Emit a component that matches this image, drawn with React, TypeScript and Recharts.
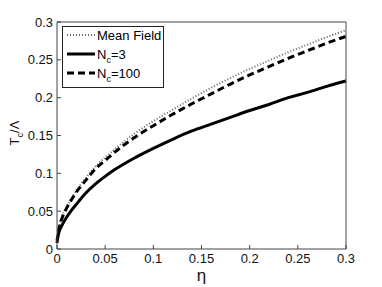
import { LineChart, Line, XAxis, YAxis } from 'recharts';

// eta values along the x axis
const eta = [0, 0.0025, 0.005, 0.01, 0.015, 0.02, 0.03, 0.04, 0.05, 0.06, 0.08, 0.1, 0.12, 0.14, 0.16, 0.18, 0.2, 0.22, 0.24, 0.26, 0.28, 0.3];

// T_c / Lambda
const meanField = [0.008, 0.031, 0.042, 0.056, 0.067, 0.077, 0.094, 0.109, 0.121, 0.132, 0.152, 0.169, 0.184, 0.199, 0.213, 0.226, 0.238, 0.249, 0.26, 0.27, 0.28, 0.289];
const nc3 = [0.012, 0.024, 0.031, 0.042, 0.051, 0.059, 0.074, 0.086, 0.096, 0.105, 0.12, 0.133, 0.145, 0.156, 0.165, 0.174, 0.183, 0.191, 0.2, 0.207, 0.215, 0.222];
const nc100 = [0.008, 0.03, 0.04, 0.054, 0.065, 0.075, 0.091, 0.106, 0.117, 0.128, 0.147, 0.163, 0.178, 0.192, 0.205, 0.218, 0.23, 0.241, 0.252, 0.262, 0.272, 0.281];

const xTicks = [0, 0.05, 0.1, 0.15, 0.2, 0.25, 0.3];
const yTicks = [0, 0.05, 0.1, 0.15, 0.2, 0.25, 0.3];

const data = eta.map((e, i) => ({ eta: e, mf: meanField[i], n3: nc3[i], n100: nc100[i] }));

const FONT = '"Liberation Sans", Arial, Helvetica, sans-serif';
const AXIS = '#444';

const fmt = (v: number) => String(v);

const LegendBox = () => {
  const rows = [
    { label: <>Mean Field</>, dash: '1 2', w: 2, c: '#666' },
    { label: <>N<tspan dy={4} fontSize={9}>c</tspan><tspan dy={-4}>=3</tspan></>, dash: undefined, w: 3, c: '#000' },
    { label: <>N<tspan dy={4} fontSize={9}>c</tspan><tspan dy={-4}>=100</tspan></>, dash: '7 4', w: 3, c: '#000' },
  ];
  return (
    <svg width={102} height={62} style={{ position: 'absolute', left: 62, top: 26 }}>
      <rect x={0.5} y={0.5} width={101} height={61} fill="#fff" stroke="#222" strokeWidth={1} />
      {rows.map((r, i) => {
        const y = 9 + i * 19;
        return (
          <g key={i}>
            <line x1={5} x2={33} y1={y} y2={y} stroke={r.c} strokeWidth={r.w} strokeDasharray={r.dash} />
            <text x={35} y={y + 4.5} fontSize={13} fontFamily={FONT} fill="#000">{r.label}</text>
          </g>
        );
      })}
    </svg>
  );
};

export default function App() {
  return (
    <div style={{ position: 'absolute', left: 0, top: 0, width: 382, height: 287, background: '#fff' }}>
      <LineChart width={382} height={287} data={data} margin={{ top: 21, right: 35, bottom: 0, left: 0 }}>
        <XAxis
          xAxisId="main"
          dataKey="eta"
          type="number"
          domain={[0, 0.3]}
          ticks={xTicks}
          tickFormatter={fmt}
          height={38}
          tickSize={-4}
          tickMargin={9}
          stroke={AXIS}
          tick={{ fill: '#111', fontSize: 13, fontFamily: FONT }}
          label={{ value: 'η', position: 'insideBottom', offset: 6, fontSize: 17, fontFamily: FONT, fill: '#111' }}
        />
        <XAxis xAxisId="top" orientation="top" dataKey="eta" type="number" domain={[0, 0.3]} ticks={xTicks} height={1} tick={false} tickSize={-4} stroke={AXIS} />
        <YAxis
          yAxisId="main"
          type="number"
          domain={[0, 0.3]}
          ticks={yTicks}
          tickFormatter={fmt}
          width={57}
          tickSize={-4}
          tickMargin={8}
          stroke={AXIS}
          tick={{ fill: '#111', fontSize: 13, fontFamily: FONT }}
          label={{
            content: () => (
              <text x={0} y={0} transform="translate(19,133) rotate(-90)" textAnchor="middle" fontSize={13} fontFamily={FONT} fill="#111">
                T<tspan dy={4} fontSize={9}>c</tspan><tspan dy={-4}>/Λ</tspan>
              </text>
            ),
          }}
        />
        <YAxis yAxisId="rt" orientation="right" type="number" domain={[0, 0.3]} ticks={yTicks} width={1} tick={false} tickSize={-4} stroke={AXIS} />
        <Line xAxisId="top" yAxisId="rt" dataKey="n3" stroke="none" dot={false} legendType="none" isAnimationActive={false} />
        <Line xAxisId="main" yAxisId="main" dataKey="mf" name="Mean Field" stroke="#666" strokeWidth={2} strokeDasharray="1 2" dot={false} type="monotone" isAnimationActive={false} />
        <Line xAxisId="main" yAxisId="main" dataKey="n3" name="Nc=3" stroke="#000" strokeWidth={3} dot={false} type="monotone" isAnimationActive={false} />
        <Line xAxisId="main" yAxisId="main" dataKey="n100" name="Nc=100" stroke="#000" strokeWidth={3} strokeDasharray="7 4" dot={false} type="monotone" isAnimationActive={false} />
      </LineChart>
      <LegendBox />
    </div>
  );
}
